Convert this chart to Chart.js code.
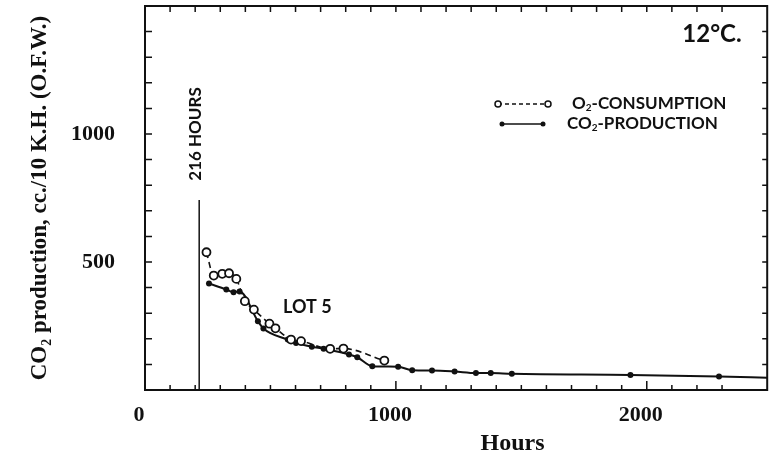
<!DOCTYPE html>
<html>
<head>
<meta charset="utf-8">
<script src="https://cdn.jsdelivr.net/npm/chart.js@4/dist/chart.umd.min.js"></script>
<style>
    body { margin: 0; background: #fff; }
    canvas { display: block; }
</style>
</head>
<body>
<canvas id="chartLot5" width="773" height="454"></canvas>
<script>
// --- Datos ---
const o2Hours = [245, 274, 308, 335, 364, 398, 434, 496, 520, 582, 622, 738, 791, 954];
const o2Values = [538, 447, 454, 456, 434, 347, 314, 259, 241, 197, 191, 161, 162, 115];

const co2Hours = [255, 324, 353, 377, 450, 472, 569, 602, 665, 712, 813, 846, 906, 1009, 1065, 1144, 1234, 1319, 1378, 1462, 1935, 2288, 2480];
const co2Values = [416, 393, 382, 385, 269, 240, 197, 184, 169, 161, 139, 128, 93, 91, 77, 76, 72, 66, 66, 63, 59, 53, 48];

const xTickLabels = [0, 1000, 2000];
const yTickLabels = [500, 1000];

const startHours = 216;
const startLineTop = 742;

const ink = '#111';
const serif = '"Liberation Serif", "DejaVu Serif", serif';
const sans = 'Lato, "DejaVu Sans", sans-serif';

function toPoints(xs, ys) {
    return xs.map((x, i) => ({ x: x, y: ys[i] }));
}

// texto con subíndice (O2, CO2)
function drawChem(ctx, parts, x, y, size) {
    let cx = x;
    parts.forEach(p => {
        if (p.sub) {
            ctx.font = 'bold ' + Math.round(size * 0.6) + 'px ' + sans;
            ctx.fillText(p.t, cx, y + size * 0.22);
        } else {
            ctx.font = 'bold ' + size + 'px ' + sans;
            ctx.fillText(p.t, cx, y);
        }
        cx += ctx.measureText(p.t).width;
    });
}

// --- Marco, marcas interiores y anotaciones ---
const framePlugin = {
    id: 'framePlugin',
    beforeDatasetsDraw(chart) {
        const { ctx, chartArea: a, scales: { x, y } } = chart;
        ctx.save();
        ctx.strokeStyle = ink;

        // línea de 216 horas
        const lx = x.getPixelForValue(startHours);
        ctx.lineWidth = 1.5;
        ctx.beginPath();
        ctx.moveTo(lx, y.getPixelForValue(startLineTop));
        ctx.lineTo(lx, a.bottom);
        ctx.stroke();
        ctx.restore();
    },
    afterDraw(chart) {
        const { ctx, chartArea: a, scales: { x, y } } = chart;
        ctx.save();
        ctx.strokeStyle = ink;
        ctx.fillStyle = ink;

        ctx.lineWidth = 2;
        ctx.strokeRect(a.left, a.top, a.right - a.left, a.bottom - a.top);

        ctx.lineWidth = 1.5;
        ctx.beginPath();
        x.ticks.forEach(t => {
            if (t.value % 100 !== 0) return;
            const px = x.getPixelForValue(t.value);
            const len = t.value % 1000 === 0 && t.value > 0 ? 9 : 5;
            ctx.moveTo(px, a.bottom);
            ctx.lineTo(px, a.bottom - len);
            ctx.moveTo(px, a.top);
            ctx.lineTo(px, a.top + 6);
        });
        y.ticks.forEach(t => {
            if (t.value % 100 !== 0) return;
            const py = y.getPixelForValue(t.value);
            ctx.moveTo(a.left, py);
            ctx.lineTo(a.left + 7, py);
            ctx.moveTo(a.right, py);
            ctx.lineTo(a.right - 5, py);
        });
        ctx.stroke();

        // título del eje x
        ctx.font = 'bold 24px ' + serif;
        ctx.textAlign = 'center';
        ctx.textBaseline = 'middle';
        ctx.fillText('Hours', x.getPixelForValue(1465), 444);

        // 216 HOURS
        ctx.save();
        ctx.translate(x.getPixelForValue(startHours) - 4, y.getPixelForValue(1000));
        ctx.rotate(-Math.PI / 2);
        ctx.font = 'bold 17px ' + sans;
        ctx.fillText('216 HOURS', 0, 0);
        ctx.restore();

        ctx.font = 'bold 18px ' + sans;
        ctx.fillText('LOT 5', x.getPixelForValue(647), y.getPixelForValue(322));

        ctx.font = 'bold 24px ' + sans;
        ctx.fillText('12°C.', 712, 34);

        // leyenda
        ctx.lineWidth = 1.5;
        ctx.setLineDash([4, 3]);
        ctx.beginPath();
        ctx.moveTo(498, 104);
        ctx.lineTo(548, 104);
        ctx.stroke();
        ctx.setLineDash([]);
        [498, 548].forEach(cx => {
            ctx.beginPath();
            ctx.arc(cx, 104, 3, 0, Math.PI * 2);
            ctx.fillStyle = '#fff';
            ctx.fill();
            ctx.stroke();
        });
        ctx.fillStyle = ink;
        ctx.beginPath();
        ctx.moveTo(502, 124);
        ctx.lineTo(543, 124);
        ctx.stroke();
        [502, 543].forEach(cx => {
            ctx.beginPath();
            ctx.arc(cx, 124, 2.5, 0, Math.PI * 2);
            ctx.fill();
        });

        ctx.textAlign = 'left';
        drawChem(ctx, [{ t: 'O' }, { t: '2', sub: true }, { t: '-CONSUMPTION' }], 572, 104, 17);
        drawChem(ctx, [{ t: 'CO' }, { t: '2', sub: true }, { t: '-PRODUCTION' }], 567, 124, 17);

        ctx.restore();
    }
};

function initChart() {
    const ctx = document.getElementById('chartLot5').getContext('2d');
    const lastCo2 = co2Hours.length - 1;
    new Chart(ctx, {
        type: 'line',
        data: {
            datasets: [{
                label: 'O2-CONSUMPTION',
                data: toPoints(o2Hours, o2Values),
                borderColor: ink,
                borderWidth: 1.6,
                borderDash: [6, 4],
                pointRadius: 4,
                pointBorderWidth: 1.8,
                pointBackgroundColor: '#fff',
                pointBorderColor: ink,
                cubicInterpolationMode: 'monotone',
                fill: false
            }, {
                label: 'CO2-PRODUCTION',
                data: toPoints(co2Hours, co2Values),
                borderColor: ink,
                borderWidth: 2,
                pointRadius: c => c.dataIndex === lastCo2 ? 0 : 3,
                pointBackgroundColor: ink,
                pointBorderColor: ink,
                pointBorderWidth: 0,
                cubicInterpolationMode: 'monotone',
                fill: false
            }]
        },
        options: {
            responsive: false,
            animation: false,
            layout: { padding: { top: 6, right: 2, left: 0, bottom: 0 } },
            plugins: {
                legend: { display: false },
                tooltip: { enabled: false }
            },
            scales: {
                x: {
                    type: 'linear',
                    min: 0,
                    max: 2480,
                    grid: { display: false, drawTicks: false },
                    border: { display: false },
                    afterFit: s => {
                        s.height = 64;
                        s.paddingLeft = 0;
                        s.paddingRight = 0;
                    },
                    ticks: {
                        stepSize: 100,
                        autoSkip: false,
                        maxRotation: 0,
                        padding: 12,
                        labelOffset: -6,
                        color: ink,
                        font: { family: serif, size: 22, weight: 'bold' },
                        callback: v => xTickLabels.includes(v) ? String(v) : ''
                    }
                },
                y: {
                    min: 0,
                    max: 1500,
                    grid: { display: false, drawTicks: false },
                    border: { display: false },
                    afterFit: s => {
                        s.width = 145;
                        s.paddingTop = 0;
                        s.paddingBottom = 0;
                    },
                    title: {
                        display: true,
                        text: 'CO₂ production, cc./10 K.H. (O.F.W.)',
                        color: ink,
                        padding: { top: 26, bottom: 0 },
                        font: { family: serif, size: 23, weight: 'bold' }
                    },
                    ticks: {
                        stepSize: 100,
                        autoSkip: false,
                        padding: 30,
                        color: ink,
                        font: { family: serif, size: 22, weight: 'bold' },
                        callback: v => yTickLabels.includes(v) ? String(v) : ''
                    }
                }
            }
        },
        plugins: [framePlugin]
    });
}

document.addEventListener('DOMContentLoaded', initChart);
</script>
</body>
</html>
